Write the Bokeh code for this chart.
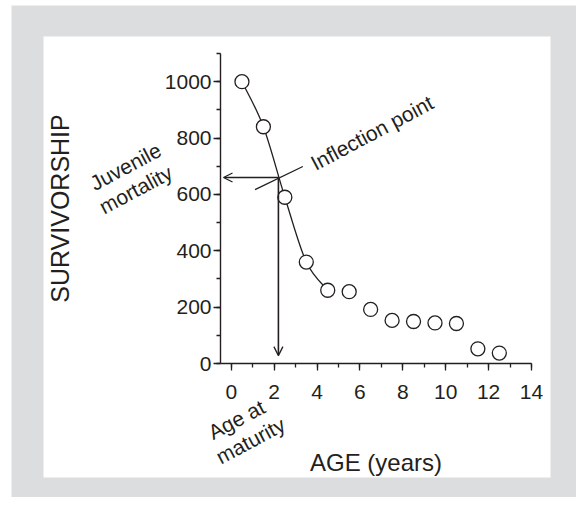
import math
from bokeh.plotting import figure
from bokeh.models import (Range1d, SingleIntervalTicker, Label, Arrow, OpenHead,
                          BoxAnnotation)
from bokeh.embed import file_html
from bokeh.resources import INLINE

# ---------------- data ----------------
age = [0.5, 1.5, 2.5, 3.5, 4.5, 5.5, 6.5, 7.5, 8.5, 9.5, 10.5, 11.5, 12.5]
survivorship = [1000, 840, 590, 360, 260, 255, 192, 153, 149, 144, 142, 52, 37]
curve_points = 5          # the smooth curve runs through the first five points

x_axis_bounds = (-0.5, 14)
y_axis_bounds = (0, 1100)
x_tick_step = 2
y_tick_step = 200

inflection_age = 2.2
inflection_surv = 660
leader_start = (1.11, 617)
leader_end = (3.34, 699)
arrow_left_end = -0.36
arrow_down_end = 28

# ---------------- layout (pixels) ----------------
W, H = 576, 497
AX_LEFT_PX, AX_RIGHT_PX = 220, 531     # x-axis line extent
AX_BOTTOM_PX, AX_TOP_PX = 363, 53      # y-axis line extent

kx = (AX_RIGHT_PX - AX_LEFT_PX) / (x_axis_bounds[1] - x_axis_bounds[0])
ky = (AX_BOTTOM_PX - AX_TOP_PX) / (y_axis_bounds[1] - y_axis_bounds[0])

def X(px):
    return x_axis_bounds[0] + (px - AX_LEFT_PX) / kx

def Y(py):
    return y_axis_bounds[0] + (AX_BOTTOM_PX - py) / ky

INK = "#231f20"
GREY = "#dcdddf"
FONT = "Liberation Sans"

p = figure(width=W, height=H, output_backend="svg", toolbar_location=None,
           x_range=Range1d(X(0), X(W)), y_range=Range1d(Y(H), Y(0)),
           min_border=0)
p.outline_line_color = None
p.grid.visible = False
p.border_fill_color = "white"
p.background_fill_color = "white"

# panel boxes (grey page, white card)
p.add_layout(BoxAnnotation(left=X(11), right=X(W), top=Y(5), bottom=Y(H),
                           fill_color=GREY, fill_alpha=1, line_color=None,
                           level="underlay"))
p.add_layout(BoxAnnotation(left=X(43), right=X(550), top=Y(36), bottom=Y(477),
                           fill_color="white", fill_alpha=1, line_color=None,
                           level="underlay"))

# smooth curve (Catmull-Rom spline through the first points, drawn as beziers)
cx = age[:curve_points]
cy = survivorship[:curve_points]
n = len(cx)
bx0, by0, bx1, by1, bcx0, bcy0, bcx1, bcy1 = ([] for _ in range(8))
for i in range(n - 1):
    i0, i3 = max(i - 1, 0), min(i + 2, n - 1)
    bx0.append(cx[i]); by0.append(cy[i])
    bx1.append(cx[i + 1]); by1.append(cy[i + 1])
    bcx0.append(cx[i] + (cx[i + 1] - cx[i0]) / 6)
    bcy0.append(cy[i] + (cy[i + 1] - cy[i0]) / 6)
    bcx1.append(cx[i + 1] - (cx[i3] - cx[i]) / 6)
    bcy1.append(cy[i + 1] - (cy[i3] - cy[i]) / 6)
p.bezier(x0=bx0, y0=by0, x1=bx1, y1=by1, cx0=bcx0, cy0=bcy0, cx1=bcx1, cy1=bcy1,
         line_color=INK, line_width=1.3)

# leader line through the inflection point
p.line(x=[leader_start[0], leader_end[0]], y=[leader_start[1], leader_end[1]],
       line_color=INK, line_width=1.3)

# arrows
p.add_layout(Arrow(end=OpenHead(size=9, line_color=INK, line_width=1.3),
                   x_start=inflection_age, y_start=inflection_surv,
                   x_end=arrow_left_end, y_end=inflection_surv,
                   line_color=INK, line_width=1.3))
p.add_layout(Arrow(end=OpenHead(size=9, line_color=INK, line_width=1.3),
                   x_start=inflection_age, y_start=inflection_surv,
                   x_end=inflection_age, y_end=arrow_down_end,
                   line_color=INK, line_width=1.6))

# points
p.scatter(x=age, y=survivorship, size=14, marker="circle",
          fill_color="white", line_color=INK, line_width=1.3)

# axes (drawn at fixed positions inside the full-canvas frame)
p.xaxis.ticker = SingleIntervalTicker(interval=x_tick_step, num_minor_ticks=2)
p.yaxis.ticker = SingleIntervalTicker(interval=y_tick_step, num_minor_ticks=2)
p.xaxis.fixed_location = y_axis_bounds[0]
p.yaxis.fixed_location = x_axis_bounds[0]
p.xaxis.bounds = x_axis_bounds
p.yaxis.bounds = y_axis_bounds
for ax in (p.xaxis[0], p.yaxis[0]):
    ax.axis_line_color = INK
    ax.axis_line_width = 1.4
    ax.major_tick_line_color = INK
    ax.minor_tick_line_color = INK
    ax.major_tick_line_width = 1.3
    ax.minor_tick_line_width = 1.3
    ax.major_tick_in = 0
    ax.major_tick_out = 7
    ax.minor_tick_in = 0
    ax.minor_tick_out = 4
    ax.major_label_text_font = FONT
    ax.major_label_text_font_size = "21px"
    ax.major_label_text_color = INK
    ax.axis_label_text_font = FONT
    ax.axis_label_text_font_style = "normal"
    ax.axis_label_text_color = INK

p.xaxis.axis_label = "AGE (years)"
p.yaxis.axis_label = "SURVIVORSHIP"
p.xaxis.axis_label_text_font_size = "24px"
p.yaxis.axis_label_text_font_size = "25px"
p.xaxis.major_label_standoff = 14
p.yaxis.major_label_standoff = 2
p.xaxis.axis_label_standoff = 47
p.yaxis.axis_label_standoff = 88

# annotations
ang = math.radians(28)
def note(text, px, py, align="center"):
    p.add_layout(Label(x=X(px), y=Y(py), text=text, angle=ang, text_align=align,
                       text_baseline="alphabetic", text_font=FONT,
                       text_font_size="21px", text_color=INK))

note("Inflection point", 311.7, 164, align="left")
note("Juvenile", 125, 166)
note("mortality", 135.2, 189)
note("Age at", 236, 419)
note("maturity", 250, 440)

open("out.html", "w").write(file_html(p, INLINE))
